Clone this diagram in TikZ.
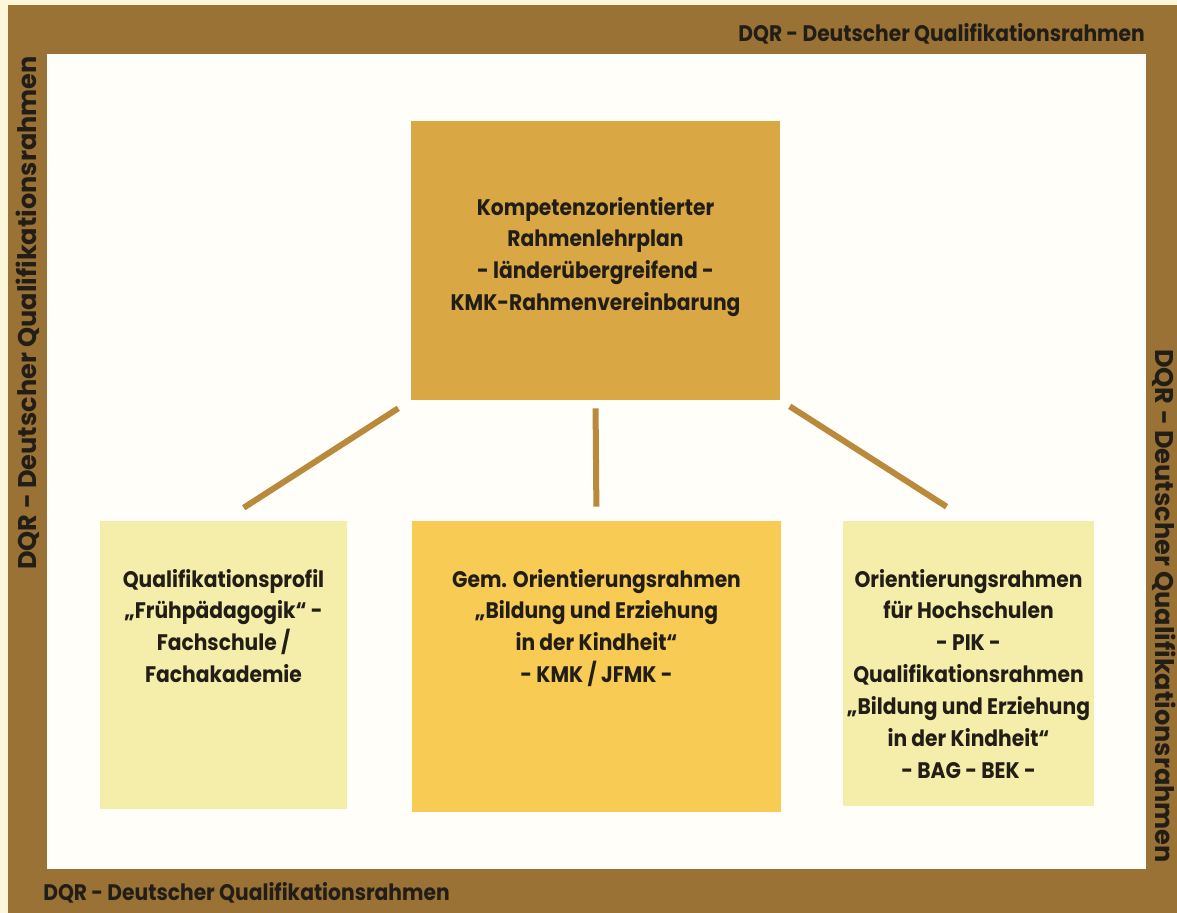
\documentclass[tikz,border=0pt]{standalone}
\usepackage{fontspec}
\setmainfont{Poppins}[FakeStretch=0.9]
\newfontfamily\sidefont{Poppins}
\usetikzlibrary{positioning}
\definecolor{cream}{HTML}{FDF7DA}
\definecolor{frame}{HTML}{9A7236}
\definecolor{paper}{HTML}{FFFEF8}
\definecolor{ocker}{HTML}{D9A744}
\definecolor{gold}{HTML}{F8CB55}
\definecolor{pale}{HTML}{F5EEAA}
\definecolor{conn}{HTML}{B98A3B}
\definecolor{ink}{HTML}{221E16}
\newcommand{\pxu}{0.025cm}

\begin{document}
\begin{tikzpicture}[x=0.025cm,y=-0.025cm,
  box/.style={inner sep=0pt, draw=none},
  txt/.style={inner sep=0pt, align=center, text=ink, font=\bfseries\fontsize{16}{22.7}\selectfont},
  dqr/.style={inner sep=0pt, text=ink, font=\bfseries\fontsize{16}{20}\selectfont},
  dqrside/.style={inner sep=0pt, text=ink, font=\sidefont\bfseries\fontsize{18.2}{20}\selectfont},
  link/.style={draw=conn, line width=0.15cm}]
% background and frame
\fill[cream] (0,0) rectangle (1177,913);
\fill[frame] (8,5) rectangle (1177,913);
\fill[paper] (47,54) rectangle (1146,869);
\node[dqr, anchor=east] (dqrtop) at (1145,34) {DQR - Deutscher Qualifikationsrahmen};
\node[dqr, anchor=west] (dqrbot) at (43,893) {DQR - Deutscher Qualifikationsrahmen};
\node[dqrside, rotate=90] (dqrleft) at (28,313) {DQR - Deutscher Qualifikationsrahmen};
\node[dqrside, rotate=-90] (dqrright) at (1164,606) {DQR - Deutscher Qualifikationsrahmen};

% boxes
\node[box, fill=ocker, minimum width=369*\pxu, minimum height=279*\pxu] (rlp) at (595.5,260.5) {};
\node[txt] (rlp-t) at (595.5,257) {Kompetenzorientierter\\Rahmenlehrplan\\- länderübergreifend -\\KMK-Rahmenvereinbarung};
\node[box, fill=pale, minimum width=247*\pxu, minimum height=288*\pxu] (quali) at (223.5,665) {};
\node[box, fill=gold, minimum width=369*\pxu, minimum height=291*\pxu] (gemo) at (596.5,666.5) {};
\node[box, fill=pale, minimum width=251*\pxu, minimum height=285*\pxu] (hoch) at (968.5,663.5) {};
\node[txt, below=1.2cm of quali.north] (quali-t) {Qualifikationsprofil\\„Frühpädagogik“ -\\Fachschule /\\Fachakademie};
\node[txt, below=1.2cm of gemo.north] (gemo-t) {Gem. Orientierungsrahmen\\„Bildung und Erziehung\\in der Kindheit“\\- KMK / JFMK -};
\node[txt, below=1.2cm of hoch.north] (hoch-t) {Orientierungsrahmen\\für Hochschulen\\- PIK -\\Qualifikationsrahmen\\„Bildung und Erziehung\\in der Kindheit“\\- BAG - BEK -};

% connectors
\draw[link, shorten <=0.37cm, shorten >=0.6cm] (rlp.south west) -- (quali.north);
\draw[link, shorten <=0.2cm, shorten >=0.35cm] (rlp.south) -- (gemo.north);
\draw[link, shorten <=0.28cm, shorten >=0.65cm] (rlp.south east) -- (hoch.north);
\end{tikzpicture}
\end{document}
